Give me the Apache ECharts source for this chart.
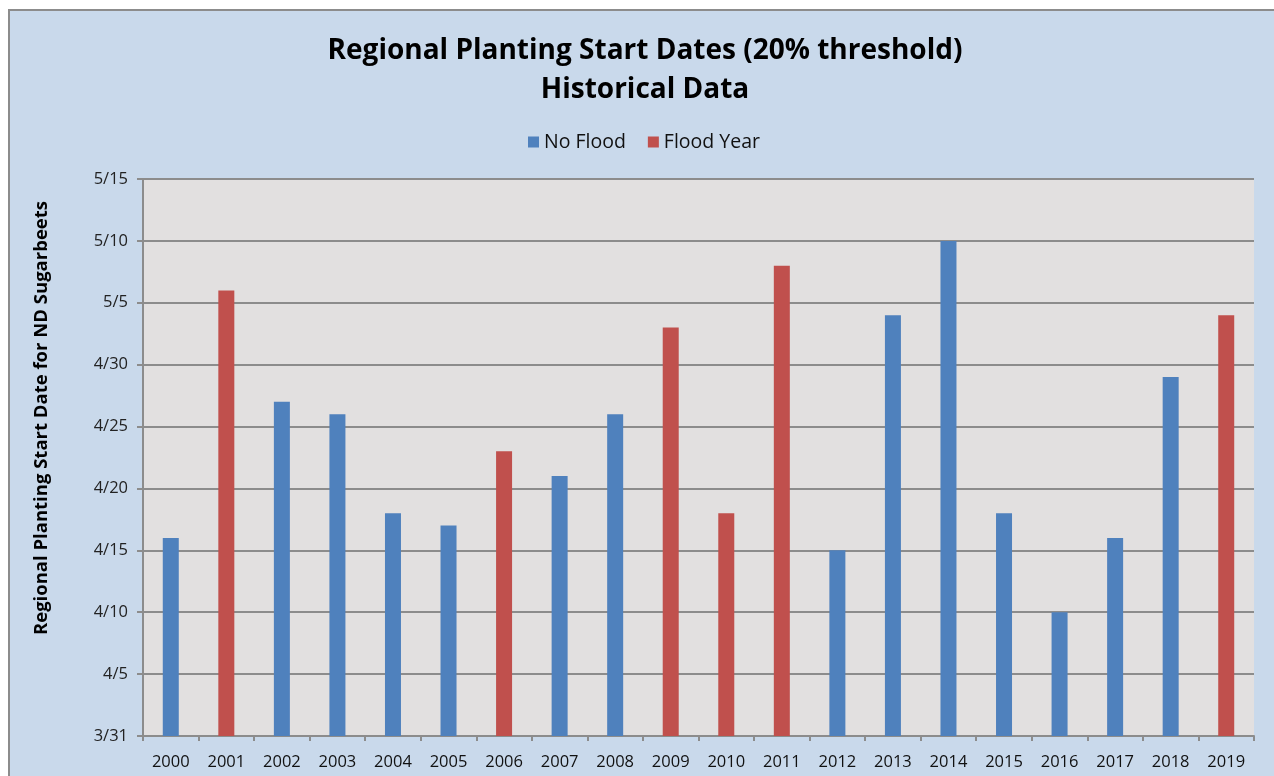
<!DOCTYPE html>
<html><head><meta charset="utf-8">
<script src="https://cdn.jsdelivr.net/npm/echarts@6/dist/echarts.min.js"></script>
<style>
html,body{margin:0;padding:0;background:#fff;overflow:hidden}
#frame{position:absolute;left:8px;top:9px;width:1300px;height:800px;background:#c9d9eb;border:2px solid #8c8c8c}
#chart{position:absolute;left:0;top:0;width:1274px;height:776px}
</style></head>
<body><div id="frame"></div><div id="chart"></div>
<script>
const years = ['2000','2001','2002','2003','2004','2005','2006','2007','2008','2009','2010','2011','2012','2013','2014','2015','2016','2017','2018','2019'];
const floodFlag = [0,1,0,0,0,0,1,0,0,1,1,1,0,0,0,0,0,0,0,1];
const startDates = ['4/16','5/6','4/27','4/26','4/18','4/17','4/23','4/21','4/26','5/3','4/18','5/8','4/15','5/4','5/10','4/18','4/10','4/16','4/29','5/4'];
const tickLabels = ['3/31','4/5','4/10','4/15','4/20','4/25','4/30','5/5','5/10','5/15'];
const yAxisTitle = 'Regional Planting Start Date for ND Sugarbeets';

function dayOffset(s){ // days after 3/31
  const [m,d]=s.split('/').map(Number);
  if(m===3) return d-31;
  if(m===4) return d;
  return 30+d;
}
const noFlood = startDates.map((s,i)=> floodFlag[i]?null:dayOffset(s));
const flood = startDates.map((s,i)=> floodFlag[i]?dayOffset(s):null);

const chart = echarts.init(document.getElementById('chart'));
const font = 'Open Sans';
chart.setOption({
  backgroundColor:'transparent',
  animation:false,
  title:{
    text:'Regional Planting Start Dates (20% threshold)\nHistorical Data',
    left:640, top:27, textAlign:'center',
    textStyle:{fontFamily:font,fontWeight:'bold',fontSize:28,lineHeight:39,color:'#000'}
  },
  legend:{
    top:127, left:523, itemWidth:11, itemHeight:11, itemGap:22,
    icon:'rect',
    textStyle:{fontFamily:font,fontSize:19.5,color:'#111'},
    data:['No Flood','Flood Year']
  },
  graphic:[{
    type:'text', x:42, y:418, rotation:Math.PI/2,
    style:{text:yAxisTitle, fontFamily:font, fontWeight:'bold', fontSize:18.5, fill:'#000', align:'center', verticalAlign:'middle'}
  }],
  grid:{left:143,right:20,top:179,bottom:40},
  xAxis:{
    type:'category', data:years,
    axisLine:{lineStyle:{color:'#8c8c8c',width:2}},
    axisTick:{show:true,length:5,lineStyle:{color:'#8c8c8c',width:2}},
    axisLabel:{fontFamily:font,fontSize:16.5,color:'#111',margin:18}
  },
  yAxis:{
    type:'value', min:0, max:45, interval:5,
    axisLine:{show:true,lineStyle:{color:'#8c8c8c',width:2}},
    axisTick:{show:true,length:6,lineStyle:{color:'#8c8c8c',width:2}},
    axisLabel:{fontFamily:font,fontSize:16.5,color:'#222',margin:15,
      formatter:(v)=>tickLabels[Math.round(v/5)]},
    splitLine:{show:true,lineStyle:{color:'#8c8c8c',width:2}},
    splitArea:{show:true,areaStyle:{color:['#e2e0e0','#e2e0e0']}}
  },
  series:[
    {name:'No Flood',type:'bar',data:noFlood,barWidth:16,barGap:'-100%',itemStyle:{color:'#4f81bd'}},
    {name:'Flood Year',type:'bar',data:flood,barWidth:16,itemStyle:{color:'#c0504d'}}
  ]
});
</script></body></html>
